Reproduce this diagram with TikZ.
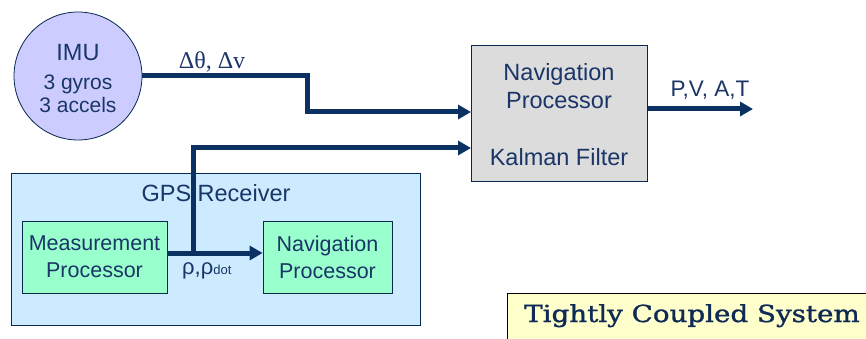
\documentclass[tikz,border=0pt]{standalone}
\usepackage{fontspec}
\setmainfont{Liberation Sans}
\newfontfamily\greekfont{Liberation Serif}
\newfontfamily\titlefont[FakeBold=1.2]{DejaVu Serif}
\usetikzlibrary{arrows.meta,calc}
\definecolor{navy}{HTML}{0B3163}
\definecolor{inkblue}{HTML}{1A3567}
\definecolor{titleblue}{HTML}{0E2A55}
\definecolor{lavender}{HTML}{CCCCFF}
\definecolor{boxgray}{HTML}{DCDCDC}
\definecolor{skyfill}{HTML}{CCEBFF}
\definecolor{mintfill}{HTML}{99FFCC}
\definecolor{creamfill}{HTML}{FFFFCC}
\tikzset{
  conn/.style={draw=navy, line width=5pt},
  arr/.style={conn, -{Triangle[length=13pt,width=14pt]}},
  blk/.style={draw=navy!80!black, line width=0.8pt, text=inkblue, align=center, inner sep=0pt},
  lbl/.style={text=inkblue, inner sep=0pt}
}
\begin{document}
\begin{tikzpicture}[x=1pt,y=-1pt]
\useasboundingbox (0,0) rectangle (866,339);

% GPS receiver enclosure
\node[blk, fill=skyfill, anchor=north west, minimum width=409pt, minimum height=152pt] (gps) at (11,173) {};
\node[lbl, font=\fontsize{23.5}{26}\selectfont] (gpst) at (216,193) {GPS Receiver};

% receiver internals
\node[blk, fill=mintfill, minimum width=145pt, minimum height=72pt, font=\fontsize{21.5}{27}\selectfont] (meas) at (94.5,257) {Measurement\\Processor};
\node[blk, fill=mintfill, minimum width=129pt, minimum height=72pt, font=\fontsize{21.5}{27}\selectfont] (gnav) at (327.5,257) {Navigation\\Processor};

% inertial unit
\node[blk, circle, fill=lavender, minimum size=128pt] (imu) at (78,76) {};
\node[lbl, font=\fontsize{23.5}{26}\selectfont] (imut) at (78,53) {IMU};
\node[lbl, font=\fontsize{21}{24}\selectfont, align=center] (imus) at (78,94) {3 gyros\\[-1pt]3 accels};

% central navigation processor
\node[blk, fill=boxgray, anchor=north west, minimum width=176pt, minimum height=136pt] (nav) at (471,45) {};
\node[lbl, font=\fontsize{23.5}{28}\selectfont, align=center] (navt) at (559,86) {Navigation\\Processor};
\node[lbl, font=\fontsize{23.5}{26}\selectfont] (kal) at (559,157) {Kalman Filter};

% connectors
\coordinate (k1) at (307,112);
\draw[arr] (imu.east) -| (k1) -- (k1 -| nav.west);
\coordinate (k2) at (193,148);
\coordinate (mo) at ([yshift=4pt]meas.east);
\coordinate (gi) at ([yshift=4pt]gnav.west);
\coordinate (tap) at (mo -| k2);
\draw[arr] (mo) -- (gi);
\draw[arr] (tap) -- (k2) -- (k2 -| nav.west);
\coordinate (out) at (753,109);
\draw[arr] (out -| nav.east) -- (out);

% signal labels
\node[lbl, font=\greekfont\fontsize{24}{26}\selectfont] (dl) at (212,62) {Δθ, Δv};
\node[lbl, font=\fontsize{22.5}{24}\selectfont] (pvat) at (710,90) {P,V, A,T};
\node[lbl, anchor=base west, font=\fontsize{22}{24}\selectfont] (rho) at (182,274.5) {ρ,ρ\fontsize{13}{14}\selectfont dot};

% caption box
\node[draw=black, line width=0.8pt, fill=creamfill, anchor=north west, minimum width=400pt, minimum height=60pt, inner sep=0pt] (tcs) at (507,293) {};
\node[anchor=base west, inner sep=0pt, text=titleblue, font=\titlefont\fontsize{23.5}{26}\selectfont] (tcst) at (524,322) {\scalebox{1.18}[1]{Tightly Coupled System}};
\end{tikzpicture}
\end{document}
